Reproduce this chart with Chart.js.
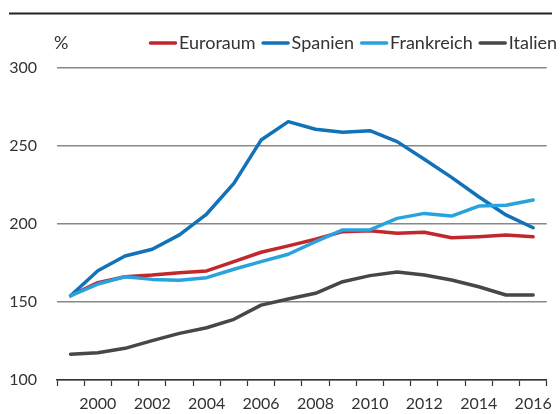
<!DOCTYPE html>
<html>
<head>
<meta charset="utf-8">
<script src="https://cdn.jsdelivr.net/npm/chart.js@4/dist/chart.umd.min.js"></script>
<style>
  html, body { margin: 0; padding: 0; background: #fff; }
  #wrap { width: 560px; height: 414px; position: relative; }
</style>
</head>
<body>
<div id="wrap"><canvas id="chart"></canvas></div>
<script>
const years = ['1999', '2000', '2001', '2002', '2003', '2004', '2005', '2006', '2007',
  '2008', '2009', '2010', '2011', '2012', '2013', '2014', '2015', '2016']

const euroraum = [154, 162.4, 166.2, 167.3, 168.8, 169.9, 175.9, 181.9, 186, 190.2,
  195.1, 195.7, 194, 194.7, 191.2, 191.9, 192.9, 191.9]
const spanien = [154, 170, 179.5, 183.8, 193, 206.4, 226, 253.8, 265.6, 260.7,
  258.8, 259.8, 252.8, 241.5, 229.9, 217.5, 205.8, 197.6]
const frankreich = [154, 161.5, 166.2, 164.5, 163.9, 165.6, 171, 175.9, 180.6, 188.7,
  196.2, 196.2, 203.6, 206.8, 205.1, 211.5, 212, 215.4]
const italien = [116.5, 117.5, 120.3, 125.2, 129.9, 133.5, 138.9, 148, 151.9, 155.6,
  163, 166.9, 169.2, 167.3, 164.1, 159.8, 154.5, 154.5]

const yTicks = [100, 150, 200, 250, 300]

const FONT = 'Lato, "Noto Sans", sans-serif'
const TEXT = '#333333'

function line (label, data, color, order) {
  return {
    label: label,
    data: data,
    borderColor: color,
    backgroundColor: color,
    borderWidth: 3.5,
    pointRadius: 0,
    tension: 0,
    fill: false,
    order: order,
    borderJoinStyle: 'round',
    borderCapStyle: 'round'
  }
}

// legend, "%" label and top rule drawn by hand
const decor = {
  id: 'decor',
  afterDraw (chart) {
    const ctx = chart.ctx
    ctx.save()
    ctx.strokeStyle = '#222'
    ctx.lineWidth = 2
    ctx.beginPath()
    ctx.moveTo(9, 13.5)
    ctx.lineTo(552, 13.5)
    ctx.stroke()

    ctx.font = '18px ' + FONT
    ctx.fillStyle = TEXT
    ctx.textBaseline = 'middle'
    ctx.textAlign = 'left'
    ctx.fillText('%', 54, 43)

    const items = chart.data.datasets
    let x = 557
    const pos = []
    for (let i = items.length - 1; i >= 0; i--) {
      const w = ctx.measureText(items[i].label).width
      x -= w
      const tx = x
      x -= 2
      const lx = x - 28
      pos.unshift({ lx: lx, tx: tx, ds: items[i] })
      x = lx - 6
    }
    pos.forEach(p => {
      ctx.strokeStyle = p.ds.borderColor
      ctx.lineWidth = 3.5
      ctx.lineCap = 'round'
      ctx.beginPath()
      ctx.moveTo(p.lx + 1.5, 43)
      ctx.lineTo(p.lx + 26.5, 43)
      ctx.stroke()
      ctx.fillStyle = TEXT
      ctx.fillText(p.ds.label, p.tx, 43)
    })
    ctx.restore()
  }
}

new Chart(document.getElementById('chart'), {
  type: 'line',
  data: {
    labels: years,
    datasets: [
      line('Euroraum', euroraum, '#c1272d', 2),
      line('Spanien', spanien, '#1272b8', 1),
      line('Frankreich', frankreich, '#29a3dd', 0),
      line('Italien', italien, '#474747', 3)
    ]
  },
  options: {
    responsive: true,
    maintainAspectRatio: false,
    animation: false,
    layout: { padding: { top: 68, right: 10, left: 0, bottom: 0 } },
    plugins: {
      legend: { display: false },
      tooltip: { enabled: false }
    },
    scales: {
      x: {
        type: 'category',
        offset: true,
        afterFit: (s) => { s.height = 34 },
        grid: {
          offset: true,
          drawOnChartArea: false,
          tickLength: 6,
          tickColor: '#333',
          tickWidth: 1.2
        },
        border: { color: '#333', width: 1.5 },
        ticks: {
          autoSkip: false,
          maxRotation: 0,
          padding: 8,
          color: TEXT,
          font: { family: FONT, size: 16 },
          callback: function (v, i) {
            const y = this.getLabelForValue(v)
            return Number(y) % 2 === 0 ? y : ''
          }
        }
      },
      y: {
        min: 100,
        max: 300,
        afterBuildTicks: (s) => { s.ticks = yTicks.map(v => ({ value: v })) },
        afterFit: (s) => { s.width = 57 },
        grid: { color: '#888', lineWidth: 1.5, drawTicks: false },
        border: { display: false },
        ticks: {
          padding: 20,
          color: TEXT,
          font: { family: FONT, size: 16 }
        }
      }
    }
  },
  plugins: [decor]
})
</script>
</body>
</html>
